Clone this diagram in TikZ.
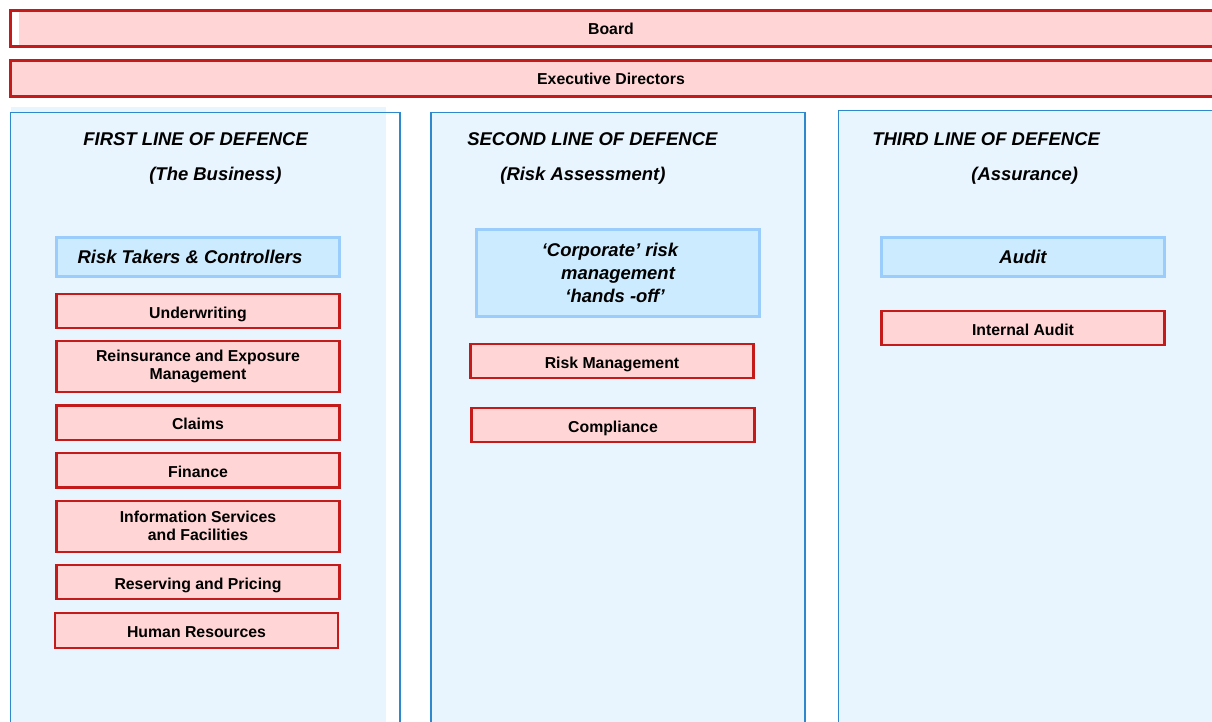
\documentclass[tikz,border=0pt]{standalone}
\usepackage{fontspec}
\setmainfont{Liberation Sans}
\usetikzlibrary{positioning}

\definecolor{riskred}{HTML}{C41A1A}
\definecolor{riskpink}{HTML}{FFD5D5}
\definecolor{lanefill}{HTML}{E8F5FE}
\definecolor{laneblue}{HTML}{2E88CC}
\definecolor{groupfill}{HTML}{CCEBFE}
\definecolor{groupline}{HTML}{9ACDFB}

\tikzset{
  bar/.style={draw=riskred, line width=1.2pt},
  bartext/.style={font=\fontsize{9}{11}\selectfont\bfseries},
  unitbox/.style={draw=riskred, fill=riskpink, line width=1.2pt, inner sep=0pt,
    minimum width=5.66cm, align=center,
    font=\fontsize{9}{10.2}\selectfont\bfseries},
  unit/.style={unitbox, minimum height=0.69cm, text height=0.8em, text depth=0pt},
  tallunit/.style={unitbox, minimum height=1.02cm},
  group/.style={draw=groupline, fill=groupfill, line width=1.2pt, inner sep=0pt,
    minimum width=5.66cm, minimum height=0.78cm, align=center,
    font=\fontsize{10.5}{13}\selectfont\bfseries\itshape},
  lane/.style={draw=laneblue, line width=1.1pt},
  lanehead/.style={anchor=west, inner sep=0pt,
    font=\fontsize{10.5}{13}\selectfont\bfseries\itshape},
}

\begin{document}
\begin{tikzpicture}[x=0.02cm, y=-0.02cm]
  \useasboundingbox (0,0) rectangle (1212,722);
  \clip (0,0) rectangle (1212,722);

  % board and executive directors
  \fill[riskpink] (19,11) rectangle (1230,46);
  \draw[bar] (10.5,10.5) rectangle (1230,46.5);
  \node[bartext] (board) at (611,28.5) {Board};
  \draw[bar, fill=riskpink] (10.5,60.5) rectangle (1230,96.5);
  \node[bartext] (exec) at (611,78.5) {Executive Directors};

  % the three lanes
  \fill[lanefill] (11,107) rectangle (386,730);
  \draw[lane] (10.5,112.5) rectangle (400,730);
  \draw[lane, fill=lanefill] (431,112.5) rectangle (805,730);
  \draw[lane, fill=lanefill] (838.5,110.5) rectangle (1230,730);

  \node[lanehead] (first) at (83,139) {FIRST LINE OF DEFENCE};
  \node[lanehead] (firstsub) at (149,175.5) {(The Business)};
  \node[lanehead] (second) at (467,139) {SECOND LINE OF DEFENCE};
  \node[lanehead] (secondsub) at (500,175.5) {(Risk Assessment)};
  \node[lanehead] (third) at (872,139) {THIRD LINE OF DEFENCE};
  \node[lanehead] (thirdsub) at (971,175.5) {(Assurance)};

  % first line: the business
  \node[group] (takers) at (198,257) {Risk Takers \& Controllers\hspace*{0.32cm}};
  \node[unit] (underwriting) at (198,311) {Underwriting};
  \node[tallunit, below=0.22cm of underwriting] (reinsurance) {Reinsurance and Exposure\\Management};
  \node[unit, below=0.22cm of reinsurance] (claims) {Claims};
  \node[unit, below=0.22cm of claims] (finance) {Finance};
  \node[tallunit, below=0.22cm of finance] (infoserv) {Information Services\\and Facilities};
  \node[unit, below=0.22cm of infoserv] (reserving) {Reserving and Pricing};
  \node[unit, below=0.24cm of reserving, xshift=-0.03cm] (hr) {Human Resources};

  % second line: risk assessment
  \node[group, minimum height=1.74cm] (corporate) at (618,273)
    {‘Corporate’ risk\hspace*{0.32cm}\\management\hspace*{0.32cm}\\\ \ ‘hands -off’\hspace*{0.32cm}};
  \node[unit] (riskmgmt) at (612,361) {Risk Management};
  \node[unit] (compliance) at (613,425) {Compliance};

  % third line: assurance
  \node[group] (audit) at (1023,257) {Audit};
  \node[unit] (intaudit) at (1023,328) {Internal Audit};
\end{tikzpicture}
\end{document}
